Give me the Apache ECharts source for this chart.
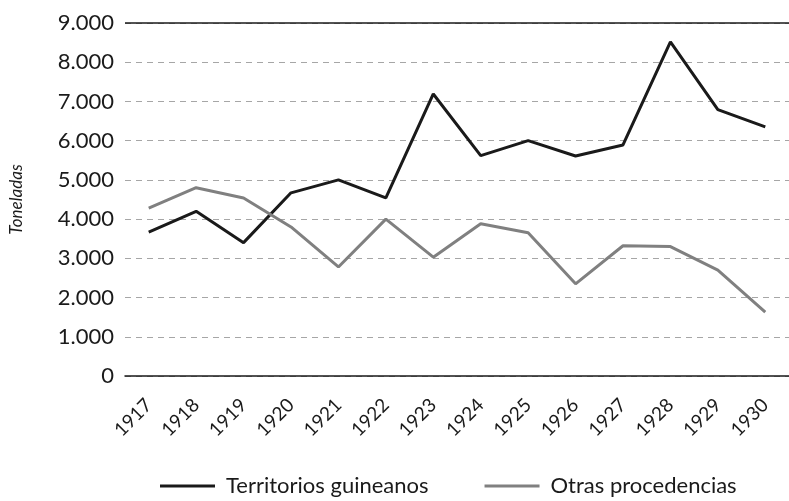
<!DOCTYPE html>
<html>
<head>
<meta charset="utf-8">
<script src="https://cdn.jsdelivr.net/npm/echarts@6/dist/echarts.min.js"></script>
<style>
  html, body { margin: 0; padding: 0; background: #fff; }
  #main { width: 789px; height: 501px; }
</style>
</head>
<body>
<div id="main"></div>
<script>
var years = ['1917','1918','1919','1920','1921','1922','1923','1924','1925','1926','1927','1928','1929','1930'];
var territorios = [3670, 4200, 3400, 4670, 5000, 4540, 7190, 5620, 6000, 5610, 5890, 8520, 6790, 6350];
var otras = [4280, 4800, 4540, 3800, 2780, 4000, 3030, 3880, 3650, 2350, 3320, 3300, 2700, 1630];

function miles(v) {
    return String(v).replace(/\B(?=(\d{3})+(?!\d))/g, '.');
}

var font = 'Lato';
var myChart = echarts.init(document.getElementById('main'));

myChart.setOption({
    animation: false,
    textStyle: { fontFamily: font },
    grid: { left: 119, right: 0, top: 23, bottom: 125 },
    legend: {
        bottom: -1,
        left: 155,
        itemWidth: 55,
        itemHeight: 3,
        itemGap: 56,
        icon: 'rect',
        textStyle: { fontFamily: font, fontSize: 22, color: '#1a1a1a', padding: [0, 0, 0, 6] },
        data: ['Territorios guineanos', 'Otras procedencias']
    },
    xAxis: {
        type: 'category',
        data: years,
        axisLine: { lineStyle: { color: '#1a1a1a', width: 1.5 } },
        axisTick: { show: false },
        axisLabel: { rotate: 45, fontSize: 19, color: '#1a1a1a', margin: 26, fontFamily: font }
    },
    yAxis: {
        type: 'value',
        min: 0,
        max: 9000,
        interval: 1000,
        name: 'Toneladas',
        nameLocation: 'middle',
        nameGap: 100,
        nameTextStyle: { fontStyle: 'italic', fontSize: 17, color: '#1a1a1a', fontFamily: font },
        axisLine: { show: false },
        axisTick: { show: false },
        axisLabel: { fontSize: 22, color: '#1a1a1a', margin: 11, formatter: miles, fontFamily: font },
        splitLine: { lineStyle: { color: '#a6a6a6', type: [6, 5], width: 1 } }
    },
    series: [
        {
            name: 'Territorios guineanos',
            type: 'line',
            data: territorios,
            symbol: 'none',
            itemStyle: { color: '#1a1a1a' },
            lineStyle: { color: '#1a1a1a', width: 3 },
            markLine: {
                silent: true,
                symbol: 'none',
                label: { show: false },
                lineStyle: { color: '#1a1a1a', type: 'solid', width: 1.5 },
                data: [{ yAxis: 9000 }]
            }
        },
        {
            name: 'Otras procedencias',
            type: 'line',
            data: otras,
            symbol: 'none',
            itemStyle: { color: '#808080' },
            lineStyle: { color: '#808080', width: 3 }
        }
    ]
});
</script>
</body>
</html>
